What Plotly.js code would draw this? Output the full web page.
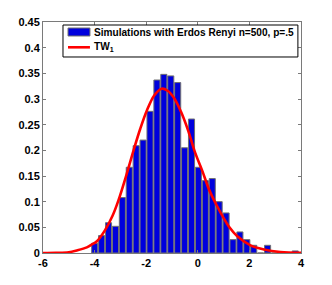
<!DOCTYPE html>
<html>
<head>
<meta charset="utf-8">
<script src="https://cdn.plot.ly/plotly-3.0.1.min.js"></script>
<style>html,body{margin:0;padding:0;background:#fff;}#chart{width:332px;height:285px;}</style>
</head>
<body>
<div id="chart"></div>
<script>
// Histogram bin centers and normalized heights
var binCenters = [-3.996, -3.728, -3.460, -3.192, -2.924, -2.656, -2.388, -2.120, -1.852, -1.584,
                  -1.316, -1.048, -0.780, -0.512, -0.244, 0.024, 0.292, 0.560, 0.828, 1.096,
                  1.364, 1.632, 1.900, 2.168, 2.436, 2.704, 2.972, 3.240, 3.508, 3.776];
var binHeights = [0.019, 0.034, 0.059, 0.052, 0.108, 0.167, 0.209, 0.220, 0.276, 0.337,
                  0.348, 0.345, 0.332, 0.205, 0.261, 0.167, 0.141, 0.145, 0.100, 0.078,
                  0.026, 0.041, 0.026, 0.015, 0, 0.015, 0, 0, 0, 0.004];

// TW1 density curve points
var twX = [-6, -5.5, -5, -4.69, -4.3, -4.13, -3.91, -3.6, -3.3, -3.08, -2.75, -2.49, -2.23, -1.97,
           -1.69, -1.40, -1.17, -0.91, -0.65, -0.37, -0.10, 0.16, 0.45, 0.71, 0.98, 1.24,
           1.52, 2.04, 2.56, 3.2, 4];
var twY = [0, 0.0003, 0.0015, 0.005, 0.011, 0.016, 0.023, 0.044, 0.073, 0.102, 0.155, 0.200, 0.242, 0.278,
           0.307, 0.320, 0.316, 0.301, 0.275, 0.238, 0.195, 0.162, 0.122, 0.095, 0.070, 0.049,
           0.033, 0.015, 0.007, 0.002, 0.0005];

var xTicks = [-6, -4, -2, 0, 2, 4];
var xTickText = ['-6', '-4', '-2', '0', '2', '4'];
var yTicks = [0, 0.05, 0.1, 0.15, 0.2, 0.25, 0.3, 0.35, 0.4, 0.45];
var yTickText = ['0', '0.05', '0.1', '0.15', '0.2', '0.25', '0.3', '0.35', '0.4', '0.45'];

var seriesNames = ['Simulations with Erdos Renyi n=500, p=.5', 'TW<sub>1</sub>'];
var barColor = '#0000dd';
var lineColor = '#ff0000';

var traces = [
  {
    type: 'bar',
    x: binCenters,
    y: binHeights,
    name: seriesNames[0],
    marker: {color: barColor, line: {color: '#707070', width: 1}}
  },
  {
    type: 'scatter',
    mode: 'lines',
    x: twX,
    y: twY,
    name: seriesNames[1],
    line: {color: lineColor, width: 2.6, shape: 'spline', smoothing: 1}
  }
];

var axisCommon = {
  showline: true,
  mirror: 'ticks',
  linecolor: '#7a7a7a',
  linewidth: 1,
  ticks: 'inside',
  ticklen: 3,
  tickcolor: '#7a7a7a',
  showgrid: false,
  zeroline: false,
  tickfont: {family: 'Liberation Sans, Arial, sans-serif', size: 11, color: '#000', weight: 'bold'}
};

var legendFont = {family: 'Liberation Sans, Arial, sans-serif', size: 10.1, color: '#000', weight: 'bold'};

var layout = {
  width: 332,
  height: 285,
  margin: {l: 43, r: 31, t: 22, b: 32, pad: 0},
  paper_bgcolor: '#fff',
  plot_bgcolor: '#fff',
  bargap: 0.12,
  xaxis: Object.assign({}, axisCommon, {range: [-6, 4], tickvals: xTicks, ticktext: xTickText}),
  yaxis: Object.assign({}, axisCommon, {range: [0, 0.45], tickvals: yTicks, ticktext: yTickText}),
  showlegend: false,
  shapes: [
    // legend box
    {type: 'rect', xref: 'paper', yref: 'paper', x0: 0.0775, x1: 0.988, y0: 0.8485, y1: 0.987,
     fillcolor: '#fff', line: {color: '#000', width: 1}, layer: 'above'},
    // legend patch for histogram
    {type: 'rect', xref: 'paper', yref: 'paper', x0: 0.097, x1: 0.182, y0: 0.9394, y1: 0.974,
     fillcolor: barColor, line: {color: '#707070', width: 1}, layer: 'above'},
    // legend line for TW1
    {type: 'line', xref: 'paper', yref: 'paper', x0: 0.097, x1: 0.182, y0: 0.8905, y1: 0.8905,
     line: {color: lineColor, width: 2.6}, layer: 'above'}
  ],
  annotations: [
    {xref: 'paper', yref: 'paper', x: 0.1899, y: 0.9567, xanchor: 'left', yanchor: 'middle',
     text: seriesNames[0], showarrow: false, font: legendFont},
    {xref: 'paper', yref: 'paper', x: 0.1899, y: 0.89, xanchor: 'left', yanchor: 'middle',
     text: seriesNames[1], showarrow: false, font: legendFont}
  ]
};

Plotly.newPlot('chart', traces, layout, {displayModeBar: false, staticPlot: true});
</script>
</body>
</html>
